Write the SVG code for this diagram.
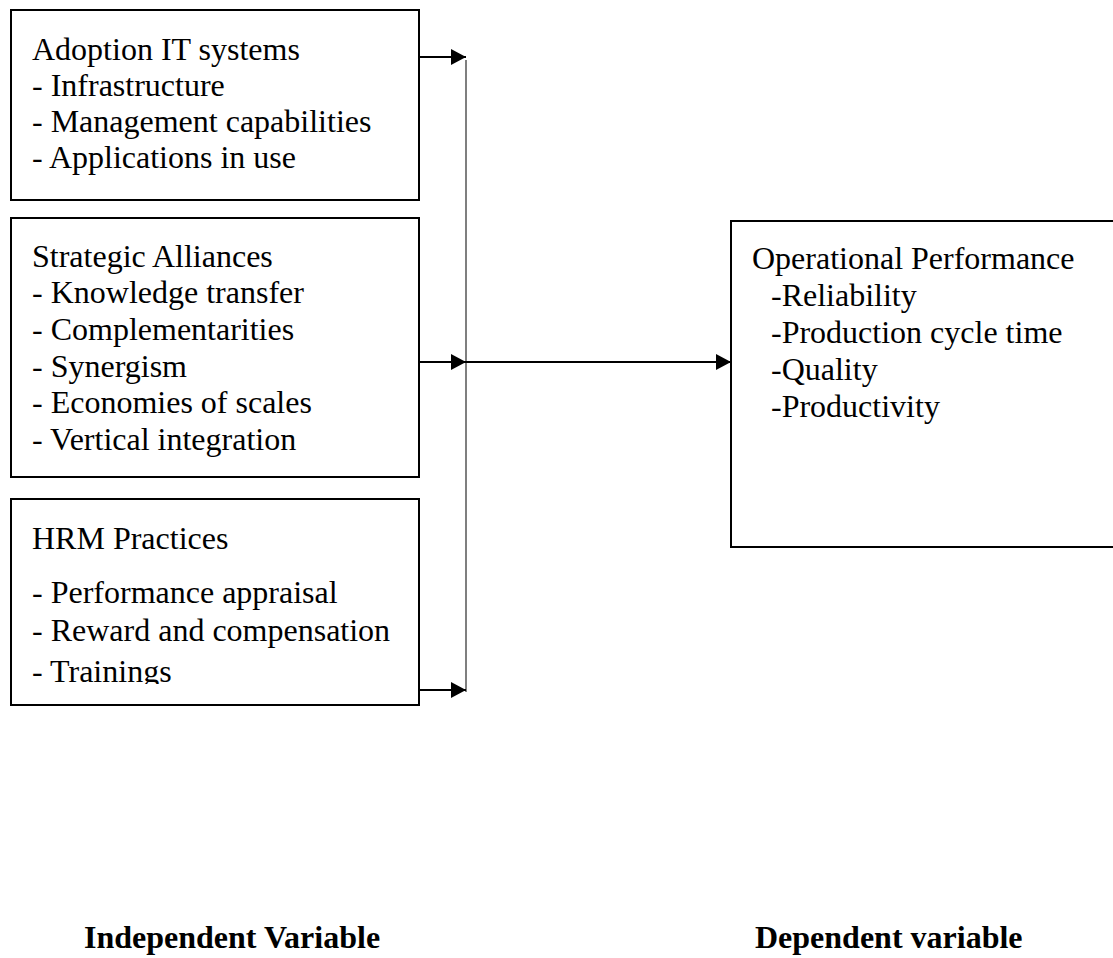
<svg xmlns="http://www.w3.org/2000/svg" width="1113" height="958" viewBox="0 0 1113 958">
<style>
.box{fill:#fff;stroke:#000;stroke-width:2}
.t{font-family:"Liberation Serif","Times New Roman",serif;font-size:32px;fill:#000}
.b{font-family:"Liberation Serif","Times New Roman",serif;font-size:32px;font-weight:bold;fill:#000}
.c{stroke:#000;stroke-width:2;fill:none}
.v{stroke:#555;stroke-width:1.5;fill:none}
</style>
<defs>
<marker id="ah" markerUnits="userSpaceOnUse" markerWidth="15" markerHeight="16" refX="15" refY="8" orient="auto">
<path d="M0,0 L15,8 L0,16 Z" fill="#000"/>
</marker>
<clipPath id="clip3"><rect x="11" y="499" width="408" height="185"/></clipPath>
</defs>
<rect width="1113" height="958" fill="#fff"/>
<g id="node-it">
<rect class="box" x="11" y="10" width="408" height="190"/>
<text class="t" x="32" y="60">Adoption IT systems</text>
<text class="t" x="32" y="96">- Infrastructure</text>
<text class="t" x="32" y="132">- Management capabilities</text>
<text class="t" x="32" y="168">- Applications in use</text>
</g>
<g id="node-sa">
<rect class="box" x="11" y="218" width="408" height="259"/>
<text class="t" x="32" y="267">Strategic Alliances</text>
<text class="t" x="32" y="303">- Knowledge transfer</text>
<text class="t" x="32" y="340">- Complementarities</text>
<text class="t" x="32" y="377">- Synergism</text>
<text class="t" x="32" y="413">- Economies of scales</text>
<text class="t" x="32" y="450">- Vertical integration</text>
</g>
<g id="node-hrm">
<rect class="box" x="11" y="499" width="408" height="206"/>
<g clip-path="url(#clip3)">
<text class="t" x="32" y="549">HRM Practices</text>
<text class="t" x="32" y="603">- Performance appraisal</text>
<text class="t" x="32" y="641">- Reward and compensation</text>
<text class="t" x="32" y="682">- Trainings</text>
</g>
</g>
<g id="node-op">
<rect class="box" x="731" y="221" width="400" height="326"/>
<text class="t" x="752" y="269">Operational Performance</text>
<text class="t" x="771" y="306">-Reliability</text>
<text class="t" x="771" y="343">-Production cycle time</text>
<text class="t" x="771" y="380">-Quality</text>
<text class="t" x="771" y="417">-Productivity</text>
</g>
<g id="connectors">
<line class="v" x1="466" y1="60" x2="466" y2="692"/>
<line class="c" x1="419" y1="57" x2="466" y2="57" marker-end="url(#ah)"/>
<line class="c" x1="419" y1="362" x2="466" y2="362" marker-end="url(#ah)"/>
<line class="c" x1="419" y1="690" x2="466" y2="690" marker-end="url(#ah)"/>
<line class="c" x1="466" y1="362" x2="731" y2="362" marker-end="url(#ah)"/>
</g>
<g id="labels">
<text class="b" x="84" y="948">Independent Variable</text>
<text class="b" x="755" y="948">Dependent variable</text>
</g>
</svg>
